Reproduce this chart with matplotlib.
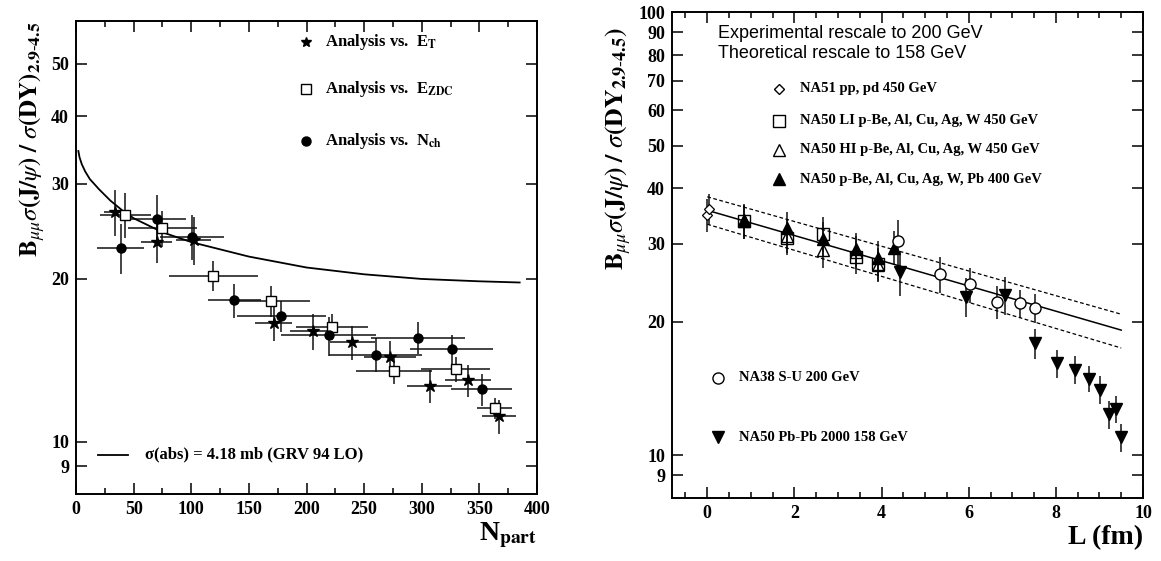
import matplotlib
matplotlib.use("Agg")
import matplotlib.pyplot as plt
from matplotlib.ticker import FixedLocator, FixedFormatter, MultipleLocator, NullLocator

plt.rcParams['mathtext.fontset'] = 'stix'
plt.rcParams['font.family'] = 'Liberation Serif'

# ---- left panel: J/psi / DY vs N_part ----
et_npart = [33.8, 69.9, 102.1, 171.7, 205.5, 239.9, 272.8, 306.9, 340.4, 367.2]
et_ratio = [26.6, 23.4, 23.6, 16.55, 16.0, 15.27, 14.37, 12.69, 12.98, 11.15]
et_yerr = [2.6, 2.0, 2.4, 1.2, 1.2, 1.1, 1.0, 0.9, 0.9, 0.8]
et_xerr = [9.7, 13.7, 15.3, 16.0, 20.0, 19.3, 22.5, 19.3, 20.0, 14.5]

zdc_npart = [42.8, 74.7, 119.2, 169.1, 222.2, 276.0, 329.5, 363.3]
zdc_ratio = [26.3, 24.85, 20.28, 18.18, 16.3, 13.54, 13.62, 11.53]
zdc_yerr = [2.5, 1.9, 1.3, 1.2, 0.9, 0.75, 0.7, 0.5]
zdc_xerr = [22, 30, 38.6, 34, 31, 33, 30, 15]

nch_npart = [38.6, 69.9, 100.8, 137.5, 178.1, 219.3, 259.9, 296.9, 325.9, 352.0]
nch_ratio = [22.83, 25.8, 23.96, 18.26, 17.08, 15.72, 14.48, 15.57, 14.81, 12.5]
nch_yerr = [2.4, 2.8, 2.3, 1.35, 1.15, 1.3, 1.05, 1.05, 0.95, 0.85]
nch_xerr = [20.3, 25.8, 28, 23, 38.6, 41, 40, 41, 36, 26.5]

abs_npart = [2, 3, 5, 8, 12, 20, 30, 40, 50, 75, 100, 150, 200, 250, 300, 350, 385]
abs_ratio = [34.5, 33.6, 32.6, 31.6, 30.6, 29.3, 27.9, 26.8, 25.9, 24.4, 23.4, 22.0, 21.0, 20.4, 20.0, 19.8, 19.7]

# ---- right panel: J/psi / DY vs L ----
na51_L = [0.0, 0.05]
na51_ratio = [34.9, 36.0]
na51_err = [3.0, 2.9]

li_L = [0.85, 1.83, 2.66, 3.42, 3.91]
li_ratio = [33.7, 30.9, 31.6, 28.0, 27.0]
li_err = [3.0, 2.6, 2.9, 2.4, 2.3]

hi_L = [0.85, 1.83, 2.66, 3.42, 3.91]
hi_ratio = [33.7, 31.3, 29.0, 28.8, 26.9]
hi_err = [3.0, 2.7, 2.5, 2.5, 2.3]

p400_L = [0.85, 1.83, 2.66, 3.42, 3.91, 4.28]
p400_ratio = [33.9, 32.5, 30.8, 29.2, 27.9, 29.4]
p400_err = [3.0, 2.9, 2.8, 2.6, 2.5, 2.6]

na38_L = [4.37, 5.34, 6.03, 6.66, 7.17, 7.51]
na38_ratio = [30.4, 25.6, 24.3, 22.2, 22.0, 21.5]
na38_err = [3.5, 2.4, 2.2, 1.9, 1.6, 1.6]

pbpb_L = [4.43, 5.93, 6.83, 7.51, 8.02, 8.43, 8.77, 9.02, 9.21, 9.38, 9.49]
pbpb_ratio = [25.9, 22.8, 23.0, 17.9, 16.1, 15.6, 14.85, 14.05, 12.38, 12.73, 10.97]
pbpb_err = [3.0, 2.3, 2.3, 1.4, 1.2, 1.1, 1.0, 1.0, 0.9, 0.9, 0.8]

fit_L = [0.0, 9.5]
fit_ratio = [35.7, 19.15]
fit_hi = [38.3, 20.8]
fit_lo = [33.2, 17.45]

fig = plt.figure(figsize=(11.61, 5.61), dpi=100)
ax1 = fig.add_axes([0.0655, 0.1194, 0.397, 0.843])
ax2 = fig.add_axes([0.5788, 0.1123, 0.4057, 0.866])

ebkw = dict(ls='none', ecolor='#111111', elinewidth=1.1, capsize=0, color='black')

ax1.errorbar(et_npart, et_ratio, yerr=et_yerr, xerr=et_xerr, marker='*', ms=9, **ebkw)
ax1.errorbar(zdc_npart, zdc_ratio, yerr=zdc_yerr, xerr=zdc_xerr, marker='s', ms=7,
             mfc='white', mec='black', mew=1.0, **ebkw)
ax1.errorbar(nch_npart, nch_ratio, yerr=nch_yerr, xerr=nch_xerr, marker='o', ms=6.5, **ebkw)
ax1.plot(abs_npart, abs_ratio, color='black', lw=1.3)

# in-plot legend
lbl_kw = dict(transform=ax1.transAxes, fontsize=12, fontweight='bold', va='center')
ax1.plot([0.499], [0.955], marker='*', ms=7, color='black', transform=ax1.transAxes)
ax1.text(0.54, 0.955, r'Analysis vs.  E$_{\mathbf{T}}$', **lbl_kw)
ax1.plot([0.499], [0.856], marker='s', ms=7, mfc='white', mec='black', transform=ax1.transAxes)
ax1.text(0.54, 0.856, r'Analysis vs.  E$_{\mathbf{ZDC}}$', **lbl_kw)
ax1.plot([0.499], [0.747], marker='o', ms=6.5, color='black', transform=ax1.transAxes)
ax1.text(0.54, 0.747, r'Analysis vs.  N$_{\mathbf{ch}}$', **lbl_kw)
ax1.plot([0.048, 0.113], [0.083, 0.083], color='black', lw=1.3, transform=ax1.transAxes)
ax1.text(0.15, 0.083, 'σ(abs) = 4.18 mb (GRV 94 LO)', **lbl_kw)

ax1.set_yscale('log')
ax1.set_xlim(0, 400)
ax1.set_ylim(8, 60)
ax1.xaxis.set_major_locator(MultipleLocator(50))
ax1.xaxis.set_minor_locator(MultipleLocator(25))
yt1 = [9, 10, 20, 30, 40, 50]
ax1.yaxis.set_major_locator(FixedLocator(yt1))
ax1.yaxis.set_minor_locator(NullLocator())
ax1.yaxis.set_major_formatter(FixedFormatter([str(v) for v in yt1]))
ax1.set_xlabel(r'N$_{\mathbf{part}}$', fontsize=20, fontweight='bold', loc='right', labelpad=2)
ax1.set_ylabel(r'$\mathbf{B}_{\mu\mu}\sigma\mathbf{(J/}\psi\mathbf{)\ /\ }\sigma\mathbf{(DY)}_{\mathbf{2.9\text{-}4.5}}$',
               fontsize=18)
ax1.yaxis.set_label_coords(-0.062, 0.75)

# right panel
ax2.errorbar(na51_L, na51_ratio, yerr=na51_err, marker='D', ms=5, mfc='white', mec='black', mew=0.9, **ebkw)
ax2.errorbar(li_L, li_ratio, yerr=li_err, marker='s', ms=8, mfc='none', mec='black', mew=1.0, **ebkw)
ax2.errorbar(hi_L, hi_ratio, yerr=hi_err, marker='^', ms=8, mfc='none', mec='black', mew=1.0, **ebkw)
ax2.errorbar(p400_L, p400_ratio, yerr=p400_err, marker='^', ms=8, **ebkw)
ax2.errorbar(na38_L, na38_ratio, yerr=na38_err, marker='o', ms=8, mfc='white', mec='black', mew=1.0, **ebkw)
ax2.errorbar(pbpb_L, pbpb_ratio, yerr=pbpb_err, marker='v', ms=8, **ebkw)
ax2.plot(fit_L, fit_ratio, color='black', lw=1.1)
ax2.plot(fit_L, fit_hi, color='black', lw=0.9, ls=(0, (3, 2)))
ax2.plot(fit_L, fit_lo, color='black', lw=0.9, ls=(0, (3, 2)))

sans_kw = dict(transform=ax2.transAxes, fontsize=13, family='Liberation Sans', va='center')
ax2.text(0.098, 0.956, 'Experimental rescale to 200 GeV', **sans_kw)
ax2.text(0.098, 0.915, 'Theoretical rescale to 158 GeV', **sans_kw)

leg_kw = dict(transform=ax2.transAxes, fontsize=10.5, fontweight='bold', va='center')
ax2.plot([0.228], [0.842], marker='D', ms=5, mfc='white', mec='black', transform=ax2.transAxes)
ax2.text(0.272, 0.842, 'NA51 pp, pd 450 GeV', **leg_kw)
ax2.plot([0.228], [0.777], marker='s', ms=8, mfc='white', mec='black', transform=ax2.transAxes)
ax2.text(0.272, 0.777, 'NA50 LI p-Be, Al, Cu, Ag, W 450 GeV', **leg_kw)
ax2.plot([0.228], [0.717], marker='^', ms=8, mfc='white', mec='black', transform=ax2.transAxes)
ax2.text(0.272, 0.717, 'NA50 HI p-Be, Al, Cu, Ag, W 450 GeV', **leg_kw)
ax2.plot([0.228], [0.656], marker='^', ms=8, color='black', transform=ax2.transAxes)
ax2.text(0.272, 0.656, 'NA50 p-Be, Al, Cu, Ag, W, Pb 400 GeV', **leg_kw)
ax2.plot([0.098], [0.248], marker='o', ms=8, mfc='white', mec='black', transform=ax2.transAxes)
ax2.text(0.142, 0.248, 'NA38 S-U 200 GeV', **leg_kw)
ax2.plot([0.098], [0.125], marker='v', ms=8, color='black', transform=ax2.transAxes)
ax2.text(0.142, 0.125, 'NA50 Pb-Pb 2000 158 GeV', **leg_kw)

ax2.set_yscale('log')
ax2.set_xlim(-0.81, 10)
ax2.set_ylim(8, 100)
ax2.xaxis.set_major_locator(MultipleLocator(2))
ax2.xaxis.set_minor_locator(MultipleLocator(0.5))
yt2 = [9, 10, 20, 30, 40, 50, 60, 70, 80, 90, 100]
ax2.yaxis.set_major_locator(FixedLocator(yt2))
ax2.yaxis.set_minor_locator(NullLocator())
ax2.yaxis.set_major_formatter(FixedFormatter([str(v) for v in yt2]))
ax2.set_xlabel('L (fm)', fontsize=20, fontweight='bold', loc='right', labelpad=2)
ax2.set_ylabel(r'$\mathbf{B}_{\mu\mu}\sigma\mathbf{(J/}\psi\mathbf{)\ /\ }\sigma\mathbf{(DY}_{\mathbf{2.9\text{-}4.5}}\mathbf{)}$',
               fontsize=18.5)
ax2.yaxis.set_label_coords(-0.083, 0.72)

for ax in (ax1, ax2):
    for sp in ax.spines.values():
        sp.set_linewidth(1.4)
    ax.tick_params(which='both', direction='in', top=True, right=True, width=1.1)
    ax.tick_params(which='major', length=8, labelsize=13, pad=5)
    ax.tick_params(which='minor', length=4)
    for lab in ax.get_xticklabels() + ax.get_yticklabels():
        lab.set_fontweight('bold')

fig.savefig('out.png', dpi=100)
